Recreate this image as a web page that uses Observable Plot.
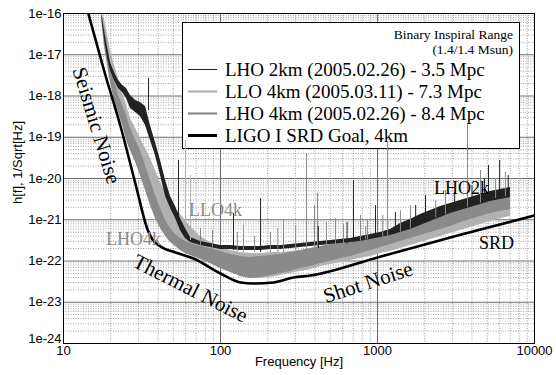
<!DOCTYPE html>
<html><head><meta charset="utf-8">
<script src="https://cdn.jsdelivr.net/npm/d3@7"></script>
<script src="https://cdn.jsdelivr.net/npm/@observablehq/plot@0.6"></script>
<style>
html,body{margin:0;padding:0;background:#fff;}
#chart{width:556px;height:375px;}
</style></head><body><div id="chart"></div>
<script>
// ---- data ----
const freq = [17.5,18.2,19.1,19.9,21.1,22.4,23.8,25.2,26.7,28.8,30.9,33.3,35.8,38.5,41.5,44.7,48.1,51.7,55.6,59.8,64.4,74.6,86.3,100,116,134,155,180,208,241,279,323,374,433,502,581,673,779,902,1045,1210,1400,1622,1878,2175,2518,2916,3377,3910,4528,5243,6071,7030];

const lho2kTop = [1e-16,3.87e-17,1.42e-17,6.49e-18,3.72e-18,2.38e-18,1.80e-18,1.52e-18,1.03e-18,7.78e-19,6.95e-19,5.56e-19,1.93e-19,7.46e-20,2.73e-20,8.95e-21,3.66e-21,2.09e-21,1.07e-21,6.14e-22,3.72e-22,2.97e-22,2.65e-22,2.38e-22,2.38e-22,2.25e-22,2.25e-22,2.25e-22,2.38e-22,2.38e-22,2.51e-22,2.65e-22,2.81e-22,2.97e-22,3.14e-22,3.32e-22,3.51e-22,3.93e-22,4.39e-22,4.91e-22,5.81e-22,8.11e-22,1.01e-21,1.34e-21,1.67e-21,2.09e-21,2.48e-21,2.93e-21,3.46e-21,4.09e-21,4.84e-21,5.41e-21,6.05e-21];
const lho2kBottom = [8.45e-17,2.48e-17,8.1e-18,4.15e-18,2.38e-18,1.52e-18,1.22e-18,8.7e-19,4.98e-19,3.98e-19,3.18e-19,1.93e-19,8.34e-20,3.61e-20,1.18e-20,3.66e-21,1.87e-21,1.07e-21,5.48e-22,3.51e-22,2.81e-22,2.38e-22,2.12e-22,1.90e-22,1.90e-22,1.80e-22,1.80e-22,1.80e-22,1.90e-22,1.90e-22,2.01e-22,2.12e-22,2.25e-22,2.38e-22,2.51e-22,2.65e-22,2.81e-22,2.97e-22,3.32e-22,3.72e-22,4.15e-22,4.91e-22,5.81e-22,7.26e-22,9.08e-22,1.13e-21,1.42e-21,1.67e-21,1.98e-21,2.34e-21,2.77e-21,3.10e-21,3.46e-21];

const llo4kTop = [1e-16,7.57e-17,2.93e-17,1.27e-17,5.48e-18,2.65e-18,1.22e-18,5.89e-19,2.85e-19,1.63e-19,9.33e-20,5.33e-20,3.05e-20,1.56e-20,8.0e-21,4.58e-21,2.93e-21,1.87e-21,1.34e-21,9.6e-22,6.86e-22,3.93e-22,2.81e-22,2.25e-22,1.80e-22,1.61e-22,1.52e-22,1.52e-22,1.61e-22,1.61e-22,1.70e-22,1.80e-22,1.90e-22,2.01e-22,2.25e-22,2.38e-22,2.65e-22,2.97e-22,3.32e-22,3.72e-22,4.15e-22,4.64e-22,5.19e-22,6.14e-22,6.86e-22,8.11e-22,9.6e-22,1.13e-21,1.34e-21,1.58e-21,1.87e-21,2.21e-21,2.48e-21];
const llo4kBottom = [8.45e-17,2.21e-17,6.49e-18,3.14e-18,1.22e-18,5.89e-19,2.85e-19,1.46e-19,7.46e-20,3.61e-20,1.75e-20,8.95e-21,3.87e-21,2.21e-21,1.27e-21,7.26e-22,4.15e-22,2.81e-22,2.12e-22,1.80e-22,1.52e-22,1.15e-22,9.2e-23,6.95e-23,5.56e-23,4.45e-23,3.77e-23,3.77e-23,3.98e-23,4.45e-23,4.98e-23,5.56e-23,6.22e-23,7.36e-23,8.22e-23,9.2e-23,1.03e-22,1.15e-22,1.29e-22,1.52e-22,1.70e-22,2.01e-22,2.38e-22,2.81e-22,3.32e-22,3.93e-22,4.64e-22,5.48e-22,6.49e-22,7.67e-22,9.08e-22,1.07e-21,1.20e-21];

const lho4kTop = [1e-16,5.12e-17,1.67e-17,6.49e-18,2.38e-18,1.03e-18,5.89e-19,3.37e-19,1.63e-19,8.34e-20,4.78e-20,2.07e-20,8.95e-21,3.87e-21,1.87e-21,9.6e-22,6.14e-22,4.39e-22,3.51e-22,2.97e-22,2.65e-22,2.25e-22,2.01e-22,1.70e-22,1.44e-22,1.29e-22,1.22e-22,1.29e-22,1.36e-22,1.44e-22,1.61e-22,1.80e-22,2.01e-22,2.25e-22,2.51e-22,2.81e-22,3.14e-22,3.72e-22,4.15e-22,4.91e-22,5.81e-22,6.49e-22,7.67e-22,9.08e-22,1.07e-21,1.27e-21,1.50e-21,1.77e-21,2.09e-21,2.48e-21,2.93e-21,3.27e-21,3.66e-21];
const lho4kBottom = [6.76e-17,1.67e-17,5.48e-18,2.12e-18,7.78e-19,3.98e-19,1.93e-19,8.34e-20,4.78e-20,2.44e-20,1.18e-20,5.12e-21,2.21e-21,1.07e-21,6.14e-22,3.93e-22,2.81e-22,2.25e-22,1.80e-22,1.52e-22,1.36e-22,1.09e-22,8.7e-23,6.58e-23,5.26e-23,4.21e-23,3.77e-23,3.98e-23,4.45e-23,4.98e-23,5.56e-23,6.58e-23,7.36e-23,8.7e-23,9.73e-23,1.15e-22,1.29e-22,1.52e-22,1.80e-22,2.12e-22,2.51e-22,2.97e-22,3.51e-22,4.15e-22,4.91e-22,5.81e-22,6.86e-22,8.57e-22,1.01e-21,1.20e-21,1.42e-21,1.58e-21,1.77e-21];

// narrow spectral lines (spikes)
const spikeFreq = [34.8,54.0,59.8,64.4,74.6,88.9,121,128,140,165,180,208,232,252,301,353,397,415,420,473,540,607,640,703,779,840,863,971,1080,1160,1300,1400,1622,1750,2023,2350,2710,3100,3742,4000,4528,4800,5093,5650,6000,6531,6800];
const spikeTop  = [2.65e-18,2.73e-20,8.34e-20,1.18e-20,6.14e-22,5.48e-22,1.42e-21,4.91e-22,7.26e-22,3.93e-22,3.27e-21,4.91e-22,6.14e-22,9.6e-22,7.26e-22,4.04e-20,2.21e-21,4.33e-21,6.86e-22,8.57e-22,1.07e-21,7.67e-22,8.57e-22,8.95e-21,1.27e-21,6.86e-22,9.6e-22,2.21e-21,1.27e-21,7.46e-20,1.50e-21,1.67e-21,2.21e-21,2.21e-21,3.87e-21,2.93e-21,5.12e-21,4.58e-21,2.15e-19,6.76e-21,1.56e-20,1.0e-20,2.07e-20,1e-20,2.73e-20,1.40e-20,1.18e-20];
const spikeBase = [4.45e-19,7.26e-22,7.26e-22,3.14e-22,2.0e-22,1.8e-22,1.8e-22,1.7e-22,1.6e-22,1.6e-22,1.6e-22,1.6e-22,1.6e-22,1.6e-22,1.8e-22,1.8e-22,2.0e-22,2.0e-22,2.0e-22,2.2e-22,2.4e-22,2.6e-22,2.6e-22,2.8e-22,3.0e-22,3.2e-22,3.3e-22,3.6e-22,3.8e-22,4.0e-22,4.6e-22,5.0e-22,6.0e-22,7.0e-22,9.0e-22,1.1e-21,1.3e-21,1.6e-21,2.0e-21,2.2e-21,2.5e-21,2.7e-21,3.0e-21,3.3e-21,3.4e-21,3.6e-21,3.6e-21];
const spikeSeries = ["LHO 2km","LHO 2km","LLO 4km","LLO 4km","LHO 4km","LHO 4km","LHO 2km","LHO 4km","LHO 4km","LHO 4km","LHO 2km","LHO 4km","LHO 4km","LHO 4km","LHO 4km","LHO 4km","LHO 4km","LHO 4km","LHO 2km","LHO 4km","LHO 4km","LHO 4km","LHO 2km","LHO 2km","LHO 4km","LHO 4km","LHO 4km","LHO 2km","LHO 4km","LHO 4km","LHO 2km","LHO 4km","LHO 4km","LHO 2km","LHO 2km","LHO 4km","LHO 4km","LHO 2km","LHO 4km","LHO 2km","LHO 4km","LHO 2km","LHO 2km","LHO 4km","LHO 2km","LHO 4km","LHO 2km"];

// LIGO I SRD goal curve
const srdFreq = [14.4,18.2,23.1,28.8,34.3,36.9,41.5,51.7,67.3,100,134,162,218,292,374,1000,3236,10000];
const srdH    = [1e-16,3.93e-18,1.82e-19,7.16e-21,5.81e-22,3.32e-22,2.25e-22,1.61e-22,1.15e-22,4.98e-23,3.01e-23,2.85e-23,3.01e-23,3.98e-23,4.45e-23,1.22e-22,4.15e-22,1.27e-21];

// annotations
const annoText  = ["Seismic Noise","Thermal Noise","Shot Noise","SRD","LHO2k","LLO4k","LHO4k"];
const annoFreq  = [16.2,64.4,869,5730,3430,92.9,27.9];
const annoH     = [1.93e-19,2.15e-23,3.0e-23,2.65e-22,5.75e-21,1.67e-21,3.32e-22];
const annoAngle = [73,27,-18,0,0,0,0];

// ticks and legend
const xTicks = [10,100,1000,10000];
const xTickLabels = ["10","100","1000","10000"];
const yTicks = [1e-24,1e-23,1e-22,1e-21,1e-20,1e-19,1e-18,1e-17,1e-16];
const yTickLabels = ["1e-24","1e-23","1e-22","1e-21","1e-20","1e-19","1e-18","1e-17","1e-16"];
const legendHeader = ["Binary Inspiral Range","(1.4/1.4 Msun)"];
const legendLabels = ["LHO 2km (2005.02.26) - 3.5 Mpc","LLO 4km (2005.03.11) - 7.3 Mpc","LHO 4km (2005.02.26) - 8.4 Mpc","LIGO I SRD Goal, 4km"];
const xTitle = "Frequency [Hz]";
const yTitle = "h[f], 1/Sqrt[Hz]";

// ---- styles ----
const colors = {"LHO 2km":"#222","LLO 4km":"#b2b2b2","LHO 4km":"#8a8a8a","SRD":"#000"};
const serif = "'Liberation Serif','Times New Roman',serif";
const sans = "'Liberation Sans',Arial,Helvetica,sans-serif";

// ---- tables ----
const band = (top,bottom)=>freq.map((f,i)=>({f,top:top[i],bottom:bottom[i]}));
const lho2k = band(lho2kTop,lho2kBottom);
const llo4k = band(llo4kTop,llo4kBottom);
const lho4k = band(lho4kTop,lho4kBottom);
const spikes = spikeFreq.map((f,i)=>({f,top:spikeTop[i],base:spikeBase[i],s:spikeSeries[i]}));
const srd = srdFreq.map((f,i)=>({f,h:srdH[i]}));
const annos = annoText.map((t,i)=>({t,f:annoFreq[i],h:annoH[i],a:annoAngle[i],grey:t==="LLO4k"||t==="LHO4k",big:annoAngle[i]!==0}));
const yTickRows = yTicks.map((v,i)=>({v,label:yTickLabels[i]}));

const xMinor=[], yMinor=[];
for (const d of [10,100,1000]) for (let k=2;k<10;k++) xMinor.push(k*d);
for (let e=-24;e<-16;e++) for (let k=2;k<10;k++) yMinor.push(k*Math.pow(10,e));
const xMajor = xTicks.slice(1,-1), yMajor = yTicks.slice(1,-1);

// legend layout (pixels)
const LG = {x0:182, y0:22, x1:519, y1:148};
function legendBox(){
  const g = d3.create("svg:g");
  g.append("rect").attr("x",LG.x0+0.5).attr("y",LG.y0+0.5).attr("width",LG.x1-LG.x0).attr("height",LG.y1-LG.y0)
    .attr("fill","#fff").attr("stroke","#000").attr("stroke-width",1);
  return g.node();
}
function legendContent(){
  const g = d3.create("svg:g").attr("font-family",serif).attr("fill","#000").attr("text-anchor","start");
  legendHeader.forEach((t,i)=>g.append("text").attr("x",513).attr("y",39+i*15).attr("text-anchor","end").attr("font-size",13.5).text(t));
  const keys = ["LHO 2km","LLO 4km","LHO 4km","SRD"];
  const widths = [1,2.2,2.2,3];
  legendLabels.forEach((t,i)=>{
    const cy = 69 + i*22;
    g.append("line").attr("x1",188).attr("x2",217).attr("y1",cy+0.5).attr("y2",cy+0.5)
      .attr("stroke",colors[keys[i]]).attr("stroke-width",widths[i]);
    g.append("text").attr("x",225).attr("y",cy+6.5).attr("text-anchor","start").attr("font-size",19).text(t);
  });
  return g.node();
}

const chart = Plot.plot({
  width:556, height:375,
  marginLeft:63, marginRight:22, marginTop:13, marginBottom:32,
  style:{fontFamily:sans, fontSize:"13px", background:"#fff", color:"#000"},
  x:{type:"log", domain:[10,10000], ticks:xTicks, tickFormat:d=>xTickLabels[xTicks.indexOf(d)], tickSize:0, tickPadding:2, label:null},
  y:{type:"log", domain:[1e-24,1e-16], ticks:yTicks.slice(1), tickFormat:d=>yTickLabels[yTicks.indexOf(d)], tickSize:0, tickPadding:2, label:null},
  marks:[
    Plot.ruleX(xMinor,{stroke:"#8c8c8c",strokeDasharray:"1,1.5",strokeWidth:0.8}),
    Plot.ruleY(yMinor,{stroke:"#8c8c8c",strokeDasharray:"1,1.5",strokeWidth:0.8}),
    Plot.ruleX(xMajor,{stroke:"#6e6e6e",strokeWidth:1}),
    Plot.ruleY(yMajor,{stroke:"#6e6e6e",strokeWidth:1}),
    legendBox,
    Plot.areaY(llo4k,{x:"f",y1:"bottom",y2:"top",fill:colors["LLO 4km"],clip:true}),
    Plot.areaY(lho4k,{x:"f",y1:"bottom",y2:"top",fill:colors["LHO 4km"],clip:true}),
    Plot.areaY(lho2k,{x:"f",y1:"bottom",y2:"top",fill:colors["LHO 2km"],clip:true}),
    Plot.ruleX(spikes,{x:"f",y1:"base",y2:"top",stroke:d=>colors[d.s],strokeWidth:1,clip:true}),
    Plot.line(srd,{x:"f",y:"h",stroke:"#000",strokeWidth:2.6,curve:"monotone-x",clip:true}),
    Plot.text(annos.filter(d=>d.big),{x:"f",y:"h",text:"t",rotate:"a",fontSize:21,fontFamily:serif,fill:"#000"}),
    Plot.text(annos.filter(d=>!d.big&&!d.grey),{x:"f",y:"h",text:"t",fontSize:18,fontFamily:serif,fill:"#000"}),
    Plot.text(annos.filter(d=>d.grey),{x:"f",y:"h",text:"t",fontSize:18,fontFamily:serif,fill:"#8a8a8a"}),
    legendContent,
    // lowest y tick label, lifted slightly as in the reference so it clears the "10"
    Plot.text(yTickRows.slice(0,1),{y:"v",text:"label",frameAnchor:"left",textAnchor:"end",dx:-2,dy:-5,fontSize:13}),
    Plot.text([xTitle],{frameAnchor:"bottom",textAnchor:"middle",lineAnchor:"bottom",dy:22,fontSize:13}),
    Plot.text([yTitle],{frameAnchor:"left",textAnchor:"middle",lineAnchor:"middle",rotate:-90,dx:-46,dy:-16,fontSize:13}),
    Plot.frame({stroke:"#000",strokeWidth:1})
  ]
});
document.getElementById("chart").appendChild(chart);
</script>
</body></html>
